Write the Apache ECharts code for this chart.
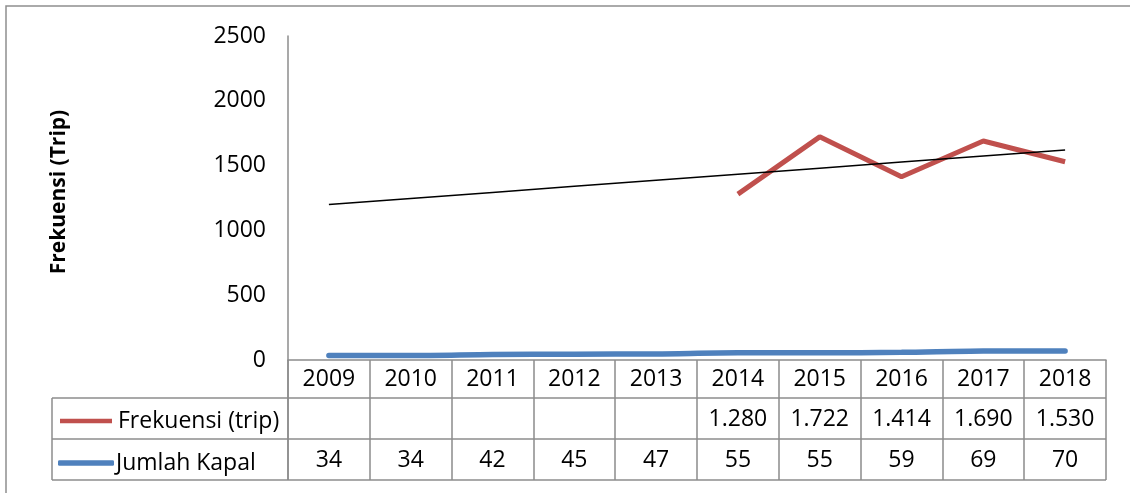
<!DOCTYPE html>
<html>
<head>
<meta charset="utf-8">
<style>
  html, body { margin: 0; padding: 0; background: #fff; }
  #chart { width: 1130px; height: 493px; }
</style>
<script src="https://cdn.jsdelivr.net/npm/echarts@6/dist/echarts.min.js"></script>
</head>
<body>
<div id="chart"></div>
<script>
// Data
const years = ['2009', '2010', '2011', '2012', '2013', '2014', '2015', '2016', '2017', '2018'];
const frekuensi = [null, null, null, null, null, 1280, 1722, 1414, 1690, 1530];
const jumlahKapal = [34, 34, 42, 45, 47, 55, 55, 59, 69, 70];
const yTicks = [0, 500, 1000, 1500, 2000, 2500];

const NAME_FREK = 'Frekuensi (trip)';
const NAME_KAPAL = 'Jumlah Kapal';
const RED = '#C0504D';
const BLUE = '#4F81BD';
const GRID_LINE = '#8C8C8C';
const FONT = '"Open Sans"';

// Linear trendline (least squares) over the available frekuensi points
function linearTrend(values) {
  const pts = values.map((v, i) => [i + 1, v]).filter(p => p[1] != null);
  const n = pts.length;
  const mx = pts.reduce((s, p) => s + p[0], 0) / n;
  const my = pts.reduce((s, p) => s + p[1], 0) / n;
  let sxy = 0, sxx = 0;
  pts.forEach(p => { sxy += (p[0] - mx) * (p[1] - my); sxx += (p[0] - mx) * (p[0] - mx); });
  const b = sxy / sxx, a = my - b * mx;
  return values.map((_, i) => a + b * (i + 1));
}
const trend = linearTrend(frekuensi);

// Thousands separator with a dot
function fmt(v) {
  if (v == null) return '';
  return String(v).replace(/\B(?=(\d{3})+(?!\d))/g, '.');
}

const GRID = { left: 288, right: 24, top: 36, bottom: 133 };
const ROW_H = [38, 41, 41];     // header row, frekuensi row, kapal row
const LABEL_SIZE = 23;

const chart = echarts.init(document.getElementById('chart'), null, { renderer: 'canvas' });

function tableAxis(offset, labels, showLine, tickLen, margin) {
  return {
    type: 'category',
    data: years,
    position: 'bottom',
    offset: offset,
    boundaryGap: true,
    axisLine: { show: showLine, lineStyle: { color: GRID_LINE, width: 1.5 } },
    axisTick: { show: tickLen > 0, length: tickLen, lineStyle: { color: GRID_LINE, width: 1.5 } },
    axisLabel: {
      show: true,
      interval: 0,
      margin: margin,
      color: '#000',
      fontFamily: FONT,
      fontSize: LABEL_SIZE,
      lineHeight: LABEL_SIZE,
      formatter: (val, idx) => labels[idx]
    },
    splitLine: { show: false }
  };
}

const tableH = ROW_H[0] + ROW_H[1] + ROW_H[2];

function legendRow(name, color, icon, left, top, width, height, gap) {
  return {
    data: [{ name: name, icon: icon, itemStyle: { color: color } }],
    orient: 'vertical',
    left: left,
    top: top,
    padding: 0,
    itemWidth: width,
    itemHeight: height,
    itemGap: 0,
    selectedMode: false,
    textStyle: { color: '#000', fontFamily: FONT, fontSize: LABEL_SIZE, lineHeight: 26, padding: [0, 0, 0, gap] }
  };
}

chart.setOption({
  animation: false,
  backgroundColor: '#fff',
  grid: GRID,
  legend: [
    legendRow(NAME_FREK, RED, 'rect', 60, 408, 52, 4.5, 1),
    legendRow(NAME_KAPAL, BLUE, 'roundRect', 58, 450, 56, 5.5, -3)
  ],
  xAxis: [
    tableAxis(0, years, true, tableH, 8),
    tableAxis(ROW_H[0], frekuensi.map(fmt), false, 0, 10),
    tableAxis(ROW_H[0] + ROW_H[1], jumlahKapal.map(String), false, 0, 10)
  ],
  yAxis: {
    type: 'value',
    min: yTicks[0],
    max: yTicks[yTicks.length - 1],
    interval: yTicks[1] - yTicks[0],
    name: 'Frekuensi (Trip)',
    nameLocation: 'middle',
    nameRotate: 90,
    nameGap: 218,
    nameTextStyle: { color: '#000', fontFamily: FONT, fontSize: 21, fontWeight: 'bold', padding: [0, 0, 0, 12] },
    axisLine: { show: true, lineStyle: { color: GRID_LINE, width: 1.5 } },
    axisTick: { show: false },
    splitLine: { show: false },
    axisLabel: { color: '#000', fontFamily: FONT, fontSize: LABEL_SIZE, margin: 22, formatter: v => String(v) }
  },
  series: [
    {
      name: NAME_FREK,
      type: 'line',
      data: frekuensi,
      symbol: 'none',
      connectNulls: false,
      lineStyle: { color: RED, width: 5, cap: 'butt' },
      itemStyle: { color: RED },
      z: 3
    },
    {
      name: NAME_KAPAL,
      type: 'line',
      data: jumlahKapal,
      symbol: 'none',
      smooth: 0.3,
      lineStyle: { color: BLUE, width: 5.5, cap: 'round' },
      itemStyle: { color: BLUE },
      z: 3
    },
    {
      name: 'Linear (Frekuensi (trip))',
      type: 'line',
      data: trend,
      symbol: 'none',
      lineStyle: { color: '#000', width: 1.5 },
      itemStyle: { color: '#000' },
      z: 4
    }
  ]
});

// Table rules for the legend column and the row separators
const xLeftTable = 52;
const xRight = chart.getWidth() - GRID.right;
const y0 = chart.getHeight() - GRID.bottom;
const yRow1 = y0 + ROW_H[0];
const yRow2 = yRow1 + ROW_H[1];
const yRow3 = yRow2 + ROW_H[2];
const ruleStyle = { stroke: GRID_LINE, lineWidth: 1.5 };

chart.setOption({
  graphic: [
    { type: 'rect', shape: { x: 6, y: 6, width: 1400, height: 900 }, style: { fill: 'none', stroke: '#8E8E8E', lineWidth: 1.5 }, silent: true },
    { type: 'line', shape: { x1: xLeftTable, y1: yRow1, x2: xRight, y2: yRow1 }, style: ruleStyle, silent: true },
    { type: 'line', shape: { x1: xLeftTable, y1: yRow2, x2: xRight, y2: yRow2 }, style: ruleStyle, silent: true },
    { type: 'line', shape: { x1: xLeftTable, y1: yRow3, x2: xRight, y2: yRow3 }, style: ruleStyle, silent: true },
    { type: 'line', shape: { x1: xLeftTable, y1: yRow1, x2: xLeftTable, y2: yRow3 }, style: ruleStyle, silent: true },
    { type: 'line', shape: { x1: GRID.left, y1: y0, x2: GRID.left, y2: yRow3 }, style: ruleStyle, silent: true }
  ]
});
</script>
</body>
</html>
